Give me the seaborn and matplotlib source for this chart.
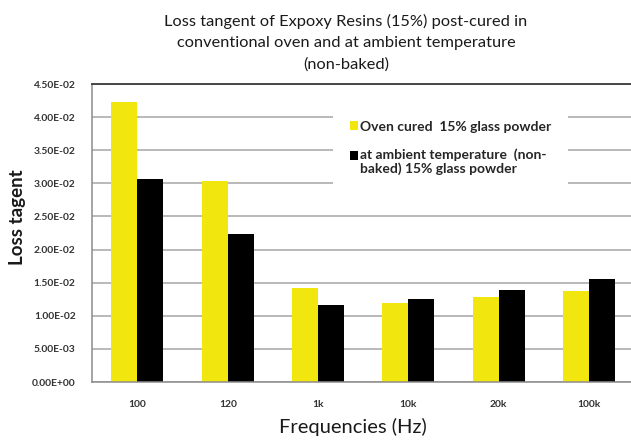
import matplotlib
matplotlib.use('Agg')
import matplotlib.pyplot as plt
import seaborn as sns
import pandas as pd

# ---- data ----
frequencies = ['100', '120', '1k', '10k', '20k', '100k']
oven_cured = [0.0423, 0.0304, 0.0142, 0.0119, 0.0128, 0.0137]
ambient = [0.0306, 0.0224, 0.0116, 0.0126, 0.0139, 0.0155]
series_names = ['Oven cured  15% glass powder',
                'at ambient temperature  (non-\nbaked) 15% glass powder']
y_ticks = [0.0, 0.005, 0.010, 0.015, 0.020, 0.025, 0.030, 0.035, 0.040, 0.045]
title_lines = ['Loss tangent of Expoxy Resins (15%) post-cured in',
               'conventional oven and at ambient temperature',
               '(non-baked)']

df = pd.DataFrame({
    'Frequency': frequencies * 2,
    'Loss': oven_cured + ambient,
    'Series': [series_names[0]] * len(frequencies) + [series_names[1]] * len(frequencies),
})

sns.set_style('white')
plt.rcParams['font.family'] = ['Lato', 'DejaVu Sans']

W, H = 631, 442
fig = plt.figure(figsize=(W / 100, H / 100), dpi=100)
ax = fig.add_axes([92.3 / W, 60 / H, (634 - 92.3) / W, 298 / H])

sns.barplot(data=df, x='Frequency', y='Loss', hue='Series', order=frequencies,
            hue_order=series_names, palette=['#F2E60F', '#000000'], saturation=1,
            width=0.576, linewidth=0, edgecolor='none', ax=ax)

ax.set_xlim(-0.5, 5.5)
ax.set_ylim(0, 0.045)
ax.set_yticks(y_ticks)
ax.set_yticklabels([f'{v:.2E}' for v in y_ticks])
ax.yaxis.grid(True, color='#a6a6a6', linewidth=1.1)
ax.set_axisbelow(True)

for s in ['left', 'bottom']:
    ax.spines[s].set_color('#8c8c8c')
    ax.spines[s].set_linewidth(1.1)
ax.spines['top'].set_color('#3a3a3a')
ax.spines['top'].set_linewidth(1.3)
ax.spines['right'].set_visible(False)

ax.tick_params(axis='y', length=10, width=1.1, color='#8c8c8c', direction='out',
               pad=2, labelsize=7.4, labelcolor='#333333')
ax.tick_params(axis='x', length=0, pad=13, labelsize=7.4, labelcolor='#333333')
for lab in ax.get_xticklabels() + ax.get_yticklabels():
    lab.set_fontweight('bold')

ax.set_xlabel('')
ax.set_ylabel('')
fig.text(353 / W, 1 - 427 / H, 'Frequencies (Hz)', ha='center', va='center',
         fontsize=14.5, color='#1a1a1a')
fig.text(18 / W, 1 - 217 / H, 'Loss tagent', ha='center', va='center',
         rotation=90, fontsize=13.5, color='#1a1a1a', fontweight='bold')

for i, (line, yy) in enumerate(zip(title_lines, [21.7, 43.3, 65.0])):
    fig.text(346 / W, 1 - yy / H, line, ha='center', va='center',
             fontsize=11.8, color='#1a1a1a')

handles, labels = ax.get_legend_handles_labels()
leg = ax.legend(handles, labels, loc='upper left',
                bbox_to_anchor=(333 / W, 1 - 104 / H), bbox_transform=fig.transFigure,
                borderaxespad=0, frameon=True, facecolor='white', edgecolor='none',
                framealpha=1, fancybox=False, handlelength=0.6, handleheight=0.6,
                handletextpad=0.15, labelspacing=1.1, borderpad=1.2,
                prop={'size': 10, 'weight': 'bold'})
# put the marker of the two-line entry beside its first line
h2 = leg.legend_handles[1]
h2.set_y(h2.get_y() + 4.5)

fig.savefig('out.png', dpi=100)
